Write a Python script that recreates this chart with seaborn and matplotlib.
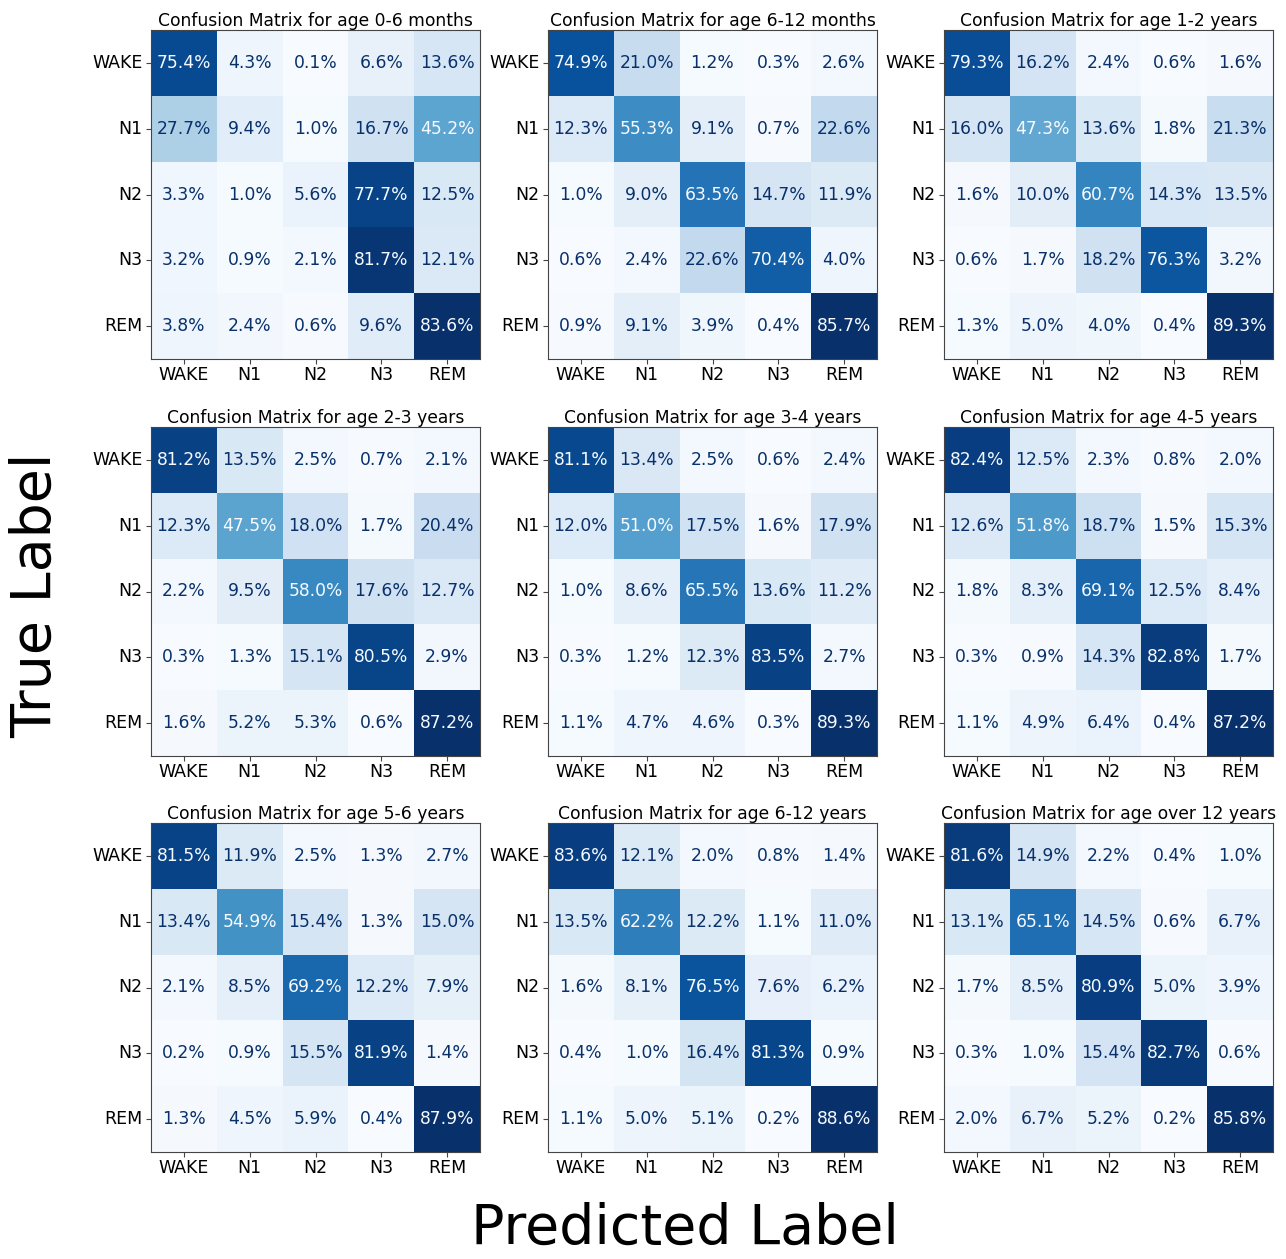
import numpy as np
import matplotlib
matplotlib.use("Agg")
import matplotlib.pyplot as plt
import seaborn as sns

stages = ["WAKE", "N1", "N2", "N3", "REM"]

titles = [
    "Confusion Matrix for age 0-6 months",
    "Confusion Matrix for age 6-12 months",
    "Confusion Matrix for age 1-2 years",
    "Confusion Matrix for age 2-3 years",
    "Confusion Matrix for age 3-4 years",
    "Confusion Matrix for age 4-5 years",
    "Confusion Matrix for age 5-6 years",
    "Confusion Matrix for age 6-12 years",
    "Confusion Matrix for age over 12 years",
]

cm_0_6m = [[75.4, 4.3, 0.1, 6.6, 13.6],
           [27.7, 9.4, 1.0, 16.7, 45.2],
           [3.3, 1.0, 5.6, 77.7, 12.5],
           [3.2, 0.9, 2.1, 81.7, 12.1],
           [3.8, 2.4, 0.6, 9.6, 83.6]]
cm_6_12m = [[74.9, 21.0, 1.2, 0.3, 2.6],
            [12.3, 55.3, 9.1, 0.7, 22.6],
            [1.0, 9.0, 63.5, 14.7, 11.9],
            [0.6, 2.4, 22.6, 70.4, 4.0],
            [0.9, 9.1, 3.9, 0.4, 85.7]]
cm_1_2y = [[79.3, 16.2, 2.4, 0.6, 1.6],
           [16.0, 47.3, 13.6, 1.8, 21.3],
           [1.6, 10.0, 60.7, 14.3, 13.5],
           [0.6, 1.7, 18.2, 76.3, 3.2],
           [1.3, 5.0, 4.0, 0.4, 89.3]]
cm_2_3y = [[81.2, 13.5, 2.5, 0.7, 2.1],
           [12.3, 47.5, 18.0, 1.7, 20.4],
           [2.2, 9.5, 58.0, 17.6, 12.7],
           [0.3, 1.3, 15.1, 80.5, 2.9],
           [1.6, 5.2, 5.3, 0.6, 87.2]]
cm_3_4y = [[81.1, 13.4, 2.5, 0.6, 2.4],
           [12.0, 51.0, 17.5, 1.6, 17.9],
           [1.0, 8.6, 65.5, 13.6, 11.2],
           [0.3, 1.2, 12.3, 83.5, 2.7],
           [1.1, 4.7, 4.6, 0.3, 89.3]]
cm_4_5y = [[82.4, 12.5, 2.3, 0.8, 2.0],
           [12.6, 51.8, 18.7, 1.5, 15.3],
           [1.8, 8.3, 69.1, 12.5, 8.4],
           [0.3, 0.9, 14.3, 82.8, 1.7],
           [1.1, 4.9, 6.4, 0.4, 87.2]]
cm_5_6y = [[81.5, 11.9, 2.5, 1.3, 2.7],
           [13.4, 54.9, 15.4, 1.3, 15.0],
           [2.1, 8.5, 69.2, 12.2, 7.9],
           [0.2, 0.9, 15.5, 81.9, 1.4],
           [1.3, 4.5, 5.9, 0.4, 87.9]]
cm_6_12y = [[83.6, 12.1, 2.0, 0.8, 1.4],
            [13.5, 62.2, 12.2, 1.1, 11.0],
            [1.6, 8.1, 76.5, 7.6, 6.2],
            [0.4, 1.0, 16.4, 81.3, 0.9],
            [1.1, 5.0, 5.1, 0.2, 88.6]]
cm_over12y = [[81.6, 14.9, 2.2, 0.4, 1.0],
              [13.1, 65.1, 14.5, 0.6, 6.7],
              [1.7, 8.5, 80.9, 5.0, 3.9],
              [0.3, 1.0, 15.4, 82.7, 0.6],
              [2.0, 6.7, 5.2, 0.2, 85.8]]

matrices = [cm_0_6m, cm_6_12m, cm_1_2y, cm_2_3y, cm_3_4y,
            cm_4_5y, cm_5_6y, cm_6_12y, cm_over12y]

plt.rcParams["font.family"] = ["DejaVu Sans"]

W, H = 1286, 1259
fig = plt.figure(figsize=(W / 100, H / 100), dpi=100)

col_left = [151, 548, 944]
row_top = [30, 427, 823]
size = 329

cmap = plt.get_cmap("Blues")
dark_txt = cmap(1.0)
light_txt = cmap(0.0)

for k, (cm, title) in enumerate(zip(matrices, titles)):
    r, c = divmod(k, 3)
    left = col_left[c] / W
    bottom = 1 - (row_top[r] + size) / H
    ax = fig.add_axes([left, bottom, size / W, size / H])
    arr = np.array(cm)
    annot = np.array([[f"{v:.1f}%" for v in row] for row in cm])
    sns.heatmap(arr, ax=ax, cmap="Blues", cbar=False, annot=annot, fmt="",
                annot_kws={"fontsize": 12.3},
                xticklabels=stages, yticklabels=stages)
    thresh = (arr.max() + arr.min()) / 2
    flat = arr.flatten()
    for t, v in zip(ax.texts, flat):
        t.set_color(light_txt if v > thresh else dark_txt)
    for s in ax.spines.values():
        s.set_visible(True)
        s.set_color("#444444")
        s.set_linewidth(0.8)
    ax.tick_params(axis="both", length=3.5, width=0.8, labelsize=12.5,
                   color="#444444", labelcolor="black")
    ax.tick_params(axis="x", pad=1.5)
    ax.tick_params(axis="y", pad=2.5)
    ax.set_xticklabels(stages, rotation=0)
    ax.set_yticklabels(stages, rotation=0)
    ax.set_xlabel("")
    ax.set_ylabel("")
    ax.set_title(title, fontsize=12.3, pad=2)

fig.text(36 / W, 1 - 595 / H, "True Label", rotation=90, fontsize=40,
         ha="center", va="center")
fig.text(685 / W, 1 - 1229 / H, "Predicted Label", fontsize=40,
         ha="center", va="center")

fig.savefig("out.png", dpi=100)
